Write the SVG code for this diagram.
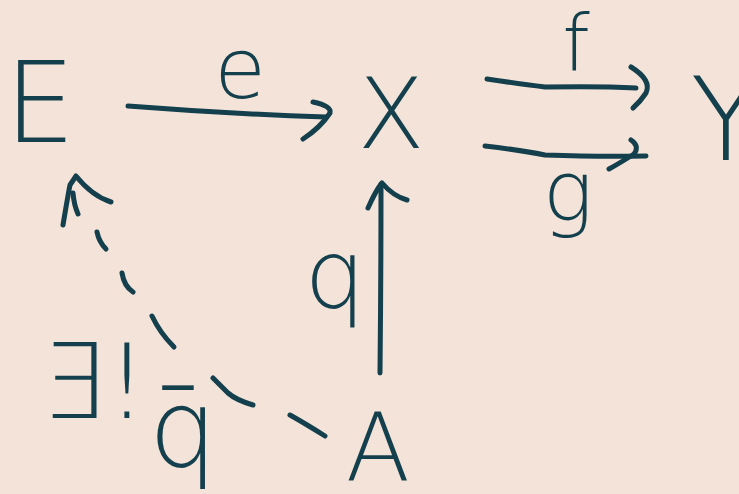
<svg xmlns="http://www.w3.org/2000/svg" width="739" height="494" viewBox="0 0 739 494">
<style>
.bg{fill:#f3e3d8}
.lbl{font-family:"DejaVu Sans","Liberation Sans",sans-serif;fill:#143f4d;text-anchor:middle;font-weight:200}
.ln{fill:none;stroke:#143f4d;stroke-width:5;stroke-linecap:round;stroke-linejoin:round}
</style>
<rect class="bg" x="0" y="0" width="739" height="494"/>
<g id="node-E"><text class="lbl" x="40" y="142" font-size="112">E</text></g>
<g id="node-X"><text class="lbl" x="391" y="148" font-size="98">X</text></g>
<g id="node-Y"><text class="lbl" x="726" y="160" font-size="116">Y</text></g>
<g id="node-A"><text class="lbl" x="378" y="481" font-size="94">A</text></g>
<g id="connectors">
  <g id="edge-e">
    <path class="ln" d="M128,106 Q230,114 326,117"/>
    <path class="ln" d="M313,102 Q332,106 330,113 Q320,128 303,139"/>
    <text class="lbl" x="240" y="98" font-size="84">e</text>
  </g>
  <g id="edge-f">
    <path class="ln" d="M487,79 Q520,84 545,87 Q600,86 636,88"/>
    <path class="ln" d="M631,67 Q652,80 646,93 Q640,102 633,108"/>
    <text class="lbl" x="576" y="71" font-size="78">f</text>
  </g>
  <g id="edge-g">
    <path class="ln" d="M485,146 Q520,150 545,155 Q600,157 646,156"/>
    <path class="ln" d="M631,140 Q640,146 634,154 Q620,163 609,169"/>
    <text class="lbl" x="568" y="221" font-size="84">g</text>
  </g>
  <g id="edge-q">
    <path class="ln" d="M380,373 Q381,280 381,184"/>
    <path class="ln" d="M368,208 Q376,190 382,183 Q393,196 407,200"/>
    <text class="lbl" x="335" y="308" font-size="96">q</text>
  </g>
  <g id="edge-qbar">
    <path class="ln" d="M325,436 Q306,424 290,415"/>
    <path class="ln" d="M253,405 Q236,400 228,393 Q220,385 213,378"/>
    <path class="ln" d="M174,347 Q160,333 152,316"/>
    <path class="ln" d="M133,292 Q124,286 122,273"/>
    <path class="ln" d="M106,249 Q99,242 97,232"/>
    <path class="ln" d="M78,214 Q74,205 73,193"/>
    <path class="ln" d="M63,225 Q68,195 70,185 L76,176 Q92,196 111,202"/>
    <text class="lbl" x="94" y="418" font-size="104">∃!</text>
    <text class="lbl" x="183" y="466" font-size="108">q̄</text>
  </g>
</g>
</svg>
